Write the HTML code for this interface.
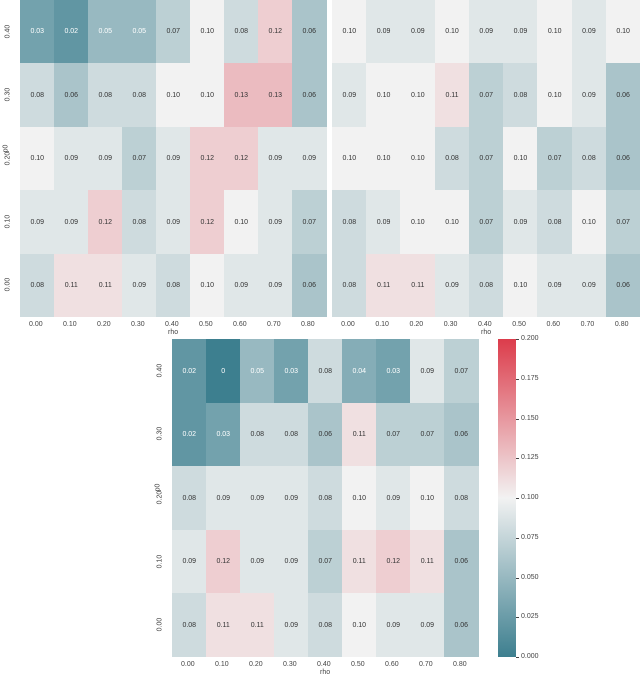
<!DOCTYPE html><html><head><style>
body{margin:0;width:640px;height:673px;background:#fff;position:relative;overflow:hidden;font-family:"Liberation Sans",sans-serif;}
.c{position:absolute;display:flex;align-items:center;justify-content:center;font-size:7px;color:#333;}
.t{position:absolute;font-size:7px;color:#444;}
.r{position:absolute;font-size:7px;color:#444;transform:rotate(-90deg);transform-origin:center;}
</style></head><body>
<script>
function col(v){var lo=[61,127,143],mid=[242,242,242],hi=[220,60,75],a,b,t;
if(v<0.1){a=lo;b=mid;t=v/0.1}else{a=mid;b=hi;t=(v-0.1)/0.1}
return 'rgb('+a.map((x,i)=>Math.round(x+(b[i]-x)*t)).join(',')+')';}
function fmt(v){return v===0?'0':v.toFixed(2);}
function hm(x0,y0,w,h,data,left){
 var cw=w/9,ch=h/5,s='';
 data.forEach((row,i)=>row.forEach((v,j)=>{
  s+='<div class="c" style="left:'+(x0+j*cw)+'px;top:'+(y0+i*ch)+'px;width:'+(cw+0.5)+'px;height:'+(ch+0.5)+'px;background:'+col(v)+';color:'+(v<=0.05?'#fff':'#333')+'">'+fmt(v)+'</div>';}));
 for(var j=0;j<9;j++)s+='<div class="t" style="left:'+(x0+j*cw+cw/2-8)+'px;top:'+(y0+h+4)+'px">'+(j/10).toFixed(2)+'</div>';
 s+='<div class="t" style="left:'+(x0+w/2-5)+'px;top:'+(y0+h+12)+'px">rho</div>';
 if(left){for(var i=0;i<5;i++)s+='<div class="r" style="left:'+(x0-19)+'px;top:'+(y0+i*ch+ch/2-4)+'px">'+((4-i)/10).toFixed(2)+'</div>';
 s+='<div class="r" style="left:'+(x0-18)+'px;top:'+(y0+2*ch+ch/2-14)+'px">p0</div>';}
 document.write(s);}
hm(20,0,306,317,[[.03,.02,.05,.05,.07,.10,.08,.12,.06],[.08,.06,.08,.08,.10,.10,.13,.13,.06],[.10,.09,.09,.07,.09,.12,.12,.09,.09],[.09,.09,.12,.08,.09,.12,.10,.09,.07],[.08,.11,.11,.09,.08,.10,.09,.09,.06]],true);
hm(332,0,308,317,[[.10,.09,.09,.10,.09,.09,.10,.09,.10],[.09,.10,.10,.11,.07,.08,.10,.09,.06],[.10,.10,.10,.08,.07,.10,.07,.08,.06],[.08,.09,.10,.10,.07,.09,.08,.10,.07],[.08,.11,.11,.09,.08,.10,.09,.09,.06]],false);
hm(172,339,306,318,[[.02,0,.05,.03,.08,.04,.03,.09,.07],[.02,.03,.08,.08,.06,.11,.07,.07,.06],[.08,.09,.09,.09,.08,.10,.09,.10,.08],[.09,.12,.09,.09,.07,.11,.12,.11,.06],[.08,.11,.11,.09,.08,.10,.09,.09,.06]],true);
var s='<div style="position:absolute;left:498px;top:339px;width:18px;height:318px;background:linear-gradient(to top,'+col(0)+','+col(0.1)+','+col(0.2)+')"></div>';
for(var k=0;k<=8;k++){var y=339+318-k*318/8;s+='<div style="position:absolute;left:516px;top:'+y+'px;width:3px;height:1px;background:#444"></div><div class="t" style="left:521px;top:'+(y-4)+'px">'+(k*0.025).toFixed(3)+'</div>';}
document.write(s);
</script>
</body></html>
